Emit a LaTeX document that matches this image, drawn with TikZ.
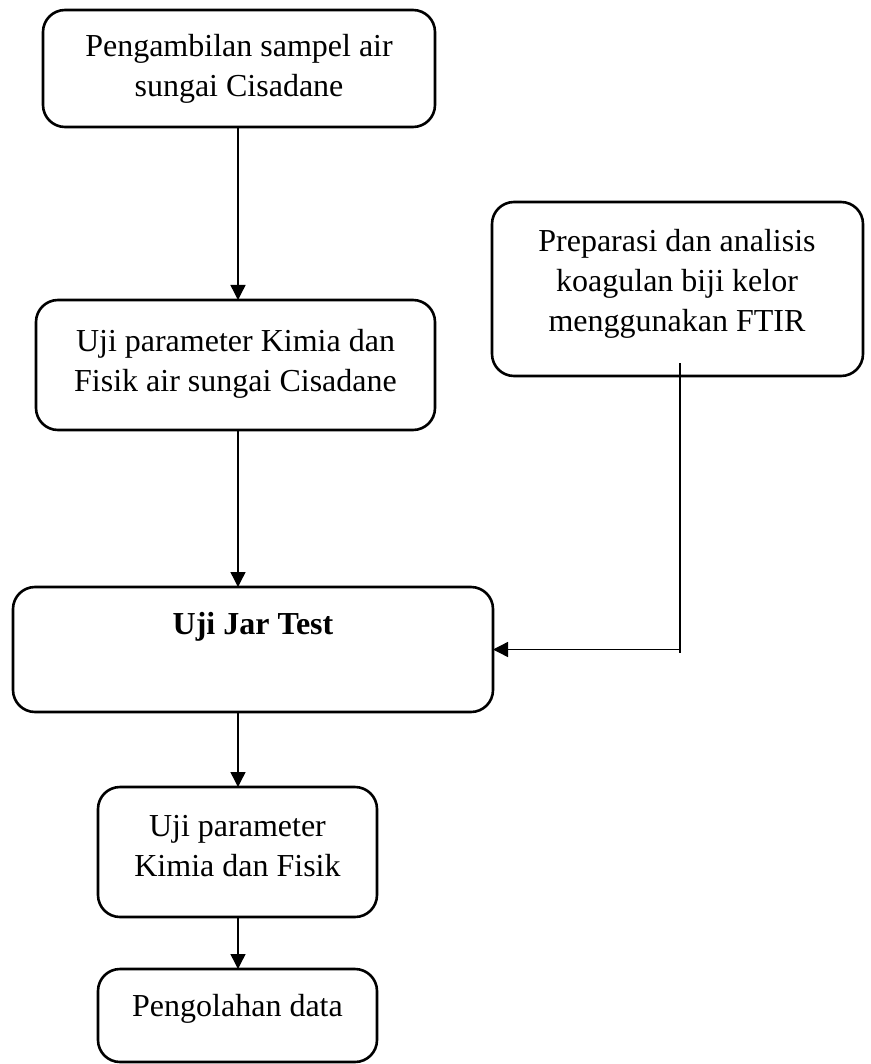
\documentclass[tikz,border=0pt]{standalone}
\usepackage{fontspec}
\setmainfont{Liberation Serif}
\usetikzlibrary{arrows.meta}
\begin{document}
\begin{tikzpicture}[x=1pt,y=-1pt,
  box/.style={draw=black, line width=2.6pt, rounded corners=22pt, inner sep=0pt, outer sep=0pt, fill=white},
  txt/.style={align=center, inner sep=0pt, font=\fontsize{32}{40}\selectfont},
  conn/.style={draw=black, line width=1.4pt},
  arr/.style={conn, -{Triangle[length=15pt,width=15pt]}}]
\useasboundingbox (0,0) rectangle (870,1064);
\fill[white] (0,0) rectangle (870,1064);
\coordinate (ax) at (238,0);
% boxes
\node[box, minimum width=392pt, minimum height=117pt] (b1) at (239,68.5) {};
\node[box, minimum width=399pt, minimum height=130pt] (b2) at (235.5,365) {};
\node[box, minimum width=371pt, minimum height=174pt] (b4) at (677.5,289) {};
\node[box, minimum width=480pt, minimum height=125pt] (jar) at (253,649.5) {};
\node[box, minimum width=279pt, minimum height=130pt] (b5) at (237.5,852) {};
\node[box, minimum width=279pt, minimum height=93pt] (b6) at (237.5,1015.5) {};
% texts
\node[txt] (t1) at (239,69) {Pengambilan sampel air\\sungai Cisadane};
\node[txt] (t2) at (235.5,364) {Uji parameter Kimia dan\\Fisik air sungai Cisadane};
\node[txt] (t4) at (677,284) {Preparasi dan analisis\\koagulan biji kelor\\menggunakan FTIR};
\node[txt, anchor=base, font=\fontsize{32}{40}\selectfont\bfseries] (tj) at (253,634) {Uji Jar Test};
\node[txt] (t5) at (237.5,846) {Uji parameter\\Kimia dan Fisik};
\node[txt, anchor=base] (t6) at (237.5,1016) {Pengolahan data};
% connectors
\draw[arr] (b1.south -| ax) -- (b2.north -| ax);
\draw[arr] (b2.south -| ax) -- (jar.north -| ax);
\draw[arr] (jar.south -| ax) -- (b5.north -| ax);
\draw[arr] (b5.south -| ax) -- (b6.north -| ax);
\coordinate (f1) at (680,363);
\coordinate (f2) at (680,653);
\coordinate (f3) at (680,649.5);
\draw[conn] (f1) -- (f2);
\draw[arr] (f3) -- (jar.east);
\end{tikzpicture}
\end{document}
